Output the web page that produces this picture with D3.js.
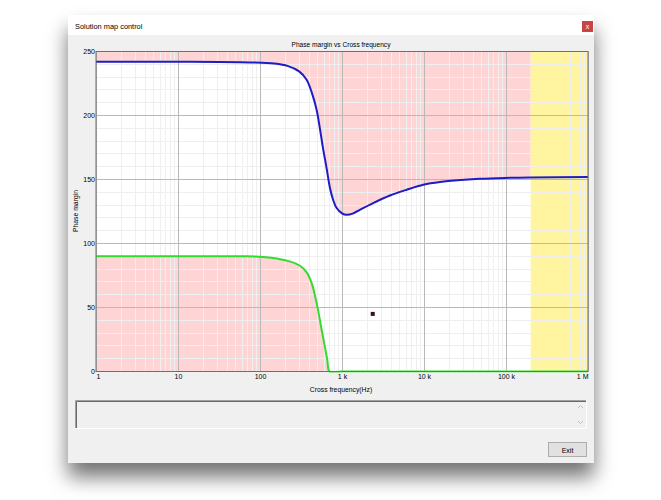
<!DOCTYPE html>
<html>
<head>
<meta charset="utf-8">
<script src="https://cdn.jsdelivr.net/npm/d3@7/dist/d3.min.js"></script>
<style>
  html, body { margin: 0; padding: 0; background: #ffffff; }
  svg { display: block; }
  text { font-family: "Liberation Sans", Arial, sans-serif; }
</style>
</head>
<body>
<svg id="chart" width="661" height="500"></svg>
<script>
// ---------------- data ----------------
const windowTitle = "Solution map control";
const chartTitle = "Phase margin vs Cross frequency";
const xAxisTitle = "Cross frequency(Hz)";
const yAxisTitle = "Phase margin";
const buttonLabel = "Exit";

const xTickValues = [1, 10, 100, 1000, 10000, 100000, 1000000];
const xTickLabels = ["1", "10", "100", "1 k", "10 k", "100 k", "1 M"];
const yTickValues = [0, 50, 100, 150, 200, 250];
const yTickLabels = ["0", "50", "100", "150", "200", "250"];

// blue curve (upper phase margin bound)
const blueFreq = [1, 10, 75, 150, 220, 300, 370, 430, 490, 540, 590, 650, 710, 780, 860, 1000, 1140, 1350, 1650, 2400, 3850, 6150, 9800, 15700, 48000, 112000, 200000, 1000000];
const blueValues = [242, 242, 241.5, 240.6, 238.6, 234.5, 228, 217.5, 204.5, 189, 173.5, 158.5, 144, 134, 127.7, 123.6, 122.4, 123.3, 126.3, 131.6, 137.5, 142, 145.9, 148, 150.5, 151.3, 151.6, 152];

// green curve (lower phase margin bound)
const greenFreq = [1, 10, 57, 100, 160, 230, 307, 371, 427, 491, 565, 662, 705, 1000, 1000000];
const greenValues = [90, 90, 90, 89.7, 88.3, 86, 82.6, 77.5, 69, 53.4, 32.6, 9.1, 0, 0, 0];

// yellow band start frequency
const yellowStart = [200000];

// single marker point
const markerFreq = [2370];
const markerValue = [45];

// ---------------- drawing ----------------
const svg = d3.select("#chart");
const defs = svg.append("defs");
const f = defs.append("filter").attr("id", "shadow")
  .attr("x", "-20%").attr("y", "-20%").attr("width", "140%").attr("height", "150%");
f.append("feDropShadow").attr("dx", 0).attr("dy", 14).attr("stdDeviation", 10)
  .attr("flood-color", "#000").attr("flood-opacity", 0.55);

// window
const win = { x: 68, y: 15, w: 526, h: 448 };
svg.append("rect").attr("x", win.x).attr("y", win.y).attr("width", win.w).attr("height", win.h)
  .attr("fill", "#f0f0f0").attr("filter", "url(#shadow)");
svg.append("rect").attr("x", win.x).attr("y", win.y).attr("width", win.w).attr("height", 20)
  .attr("fill", "#ffffff");
svg.append("text").attr("x", 75).attr("y", 29).attr("font-size", 7.4).attr("fill", "#000")
  .text(windowTitle);
// close button
svg.append("rect").attr("x", 582).attr("y", 21).attr("width", 11).attr("height", 11).attr("fill", "#c94545");
svg.append("text").attr("x", 587.5).attr("y", 29).attr("font-size", 7).attr("fill", "#fff")
  .attr("text-anchor", "middle").text("x");

// scales
const x = d3.scaleLog().domain([1, 1e6]).range([96, 588]);
const y = d3.scaleLinear().domain([0, 250]).range([371.5, 51.5]);
const [x0, x1] = x.range();
const [yb, yt] = y.range();

const plot = svg.append("g");
plot.append("rect").attr("x", x0).attr("y", yt).attr("width", x1 - x0).attr("height", yb - yt).attr("fill", "#ffffff");

defs.append("clipPath").attr("id", "pinkclip").append("rect")
  .attr("x", x0).attr("y", yt).attr("width", x(yellowStart[0]) - x0).attr("height", yb - yt);
defs.append("clipPath").attr("id", "plotclip").append("rect")
  .attr("x", x0 - 1).attr("y", yt).attr("width", x1 - x0 + 2).attr("height", yb - yt + 1);

const blueData = blueFreq.map((fq, i) => [fq, blueValues[i]]);
const greenData = greenFreq.map((fq, i) => [fq, greenValues[i]]);
const curve = d3.curveCatmullRom.alpha(0.5);

// pink fills
plot.append("path").datum(blueData)
  .attr("clip-path", "url(#pinkclip)")
  .attr("fill", "#ffd4d4")
  .attr("d", d3.area().curve(curve).x(d => x(d[0])).y0(y(250)).y1(d => y(d[1])));
plot.append("path").datum(greenData)
  .attr("clip-path", "url(#pinkclip)")
  .attr("fill", "#ffd4d4")
  .attr("d", d3.area().curve(curve).x(d => x(d[0])).y0(y(0)).y1(d => y(Math.max(0, d[1]))));
// yellow band
plot.append("rect").attr("x", x(yellowStart[0])).attr("y", yt)
  .attr("width", x1 - x(yellowStart[0])).attr("height", yb - yt).attr("fill", "#fff4a0");

// minor grid
const minorX = [];
for (let d = 0; d < 6; d++) for (let k = 2; k <= 9; k++) minorX.push(k * Math.pow(10, d));
const minorY = d3.range(10, 250, 10).filter(v => v % 50 !== 0);
plot.append("g").selectAll("line").data(minorX).join("line")
  .attr("x1", d => Math.round(x(d)) + 0.5).attr("x2", d => Math.round(x(d)) + 0.5)
  .attr("y1", yt).attr("y2", yb).attr("stroke", "#efefef").attr("stroke-width", 1);
plot.append("g").selectAll("line").data(minorY).join("line")
  .attr("y1", d => Math.round(y(d) - 0.5) + 0.5).attr("y2", d => Math.round(y(d) - 0.5) + 0.5)
  .attr("x1", x0).attr("x2", x1).attr("stroke", "#efefef").attr("stroke-width", 1);
// major grid
plot.append("g").selectAll("line").data(xTickValues).join("line")
  .attr("x1", d => Math.round(x(d)) + 0.5).attr("x2", d => Math.round(x(d)) + 0.5)
  .attr("y1", yt).attr("y2", yb).attr("stroke", "#b9b9b9").attr("stroke-width", 1);
plot.append("g").selectAll("line").data(yTickValues).join("line")
  .attr("y1", d => y(d)).attr("y2", d => y(d))
  .attr("x1", x0).attr("x2", x1).attr("stroke", "#b9b9b9").attr("stroke-width", 1);

// curves
const lines = plot.append("g").attr("clip-path", "url(#plotclip)");
lines.append("path").datum(blueData).attr("fill", "none").attr("stroke", "#1c1cc8").attr("stroke-width", 2)
  .attr("d", d3.line().curve(curve).x(d => x(d[0])).y(d => y(d[1])));
lines.append("path").datum(greenData).attr("fill", "none").attr("stroke", "#2fdc2f").attr("stroke-width", 2)
  .attr("d", d3.line().curve(curve).x(d => x(d[0])).y(d => y(d[1])));

// marker
plot.selectAll("rect.marker").data(markerFreq).join("rect").attr("class", "marker")
  .attr("x", (d) => x(d) - 2).attr("y", (d, i) => y(markerValue[i]) - 2)
  .attr("width", 4).attr("height", 4).attr("fill", "#3a1010");

// frame
plot.append("rect").attr("x", x0).attr("y", yt).attr("width", x1 - x0).attr("height", yb - yt)
  .attr("fill", "none").attr("stroke", "#6e6e6e").attr("stroke-width", 1);

// axes
const yAxis = d3.axisLeft(y).tickValues(yTickValues).tickSize(0).tickPadding(1)
  .tickFormat((d, i) => yTickLabels[i]);
const gy = svg.append("g").attr("transform", `translate(${x0},0)`).call(yAxis);
gy.select(".domain").remove();
gy.selectAll("text").attr("font-size", 7).attr("fill", "#000").attr("font-family", "Liberation Sans, Arial, sans-serif");

const xAxis = d3.axisBottom(x).tickValues(xTickValues).tickSize(0).tickPadding(3)
  .tickFormat((d, i) => xTickLabels[i]);
const gx = svg.append("g").attr("transform", `translate(0,${yb})`).call(xAxis);
gx.select(".domain").remove();
gx.selectAll("text").attr("font-size", 7).attr("fill", "#000").attr("font-family", "Liberation Sans, Arial, sans-serif")
  .attr("text-anchor", (d, i) => i === 0 ? "start" : (i === xTickValues.length - 1 ? "end" : "middle"));

// titles
svg.append("text").attr("x", 341).attr("y", 47).attr("text-anchor", "middle").attr("font-size", 6.6)
  .text(chartTitle);
svg.append("text").attr("x", 341).attr("y", 392).attr("text-anchor", "middle").attr("font-size", 6.8)
  .text(xAxisTitle);
svg.append("text").attr("transform", "translate(78,211) rotate(-90)").attr("text-anchor", "middle").attr("font-size", 6.8)
  .text(yAxisTitle);

// text box panel
const tb = { x: 75, y: 400, w: 512, h: 29 };
svg.append("rect").attr("x", tb.x).attr("y", tb.y).attr("width", tb.w).attr("height", tb.h).attr("fill", "#f0f0f0");
svg.append("path").attr("d", `M${tb.x + 0.5},${tb.y + tb.h} V${tb.y + 0.5} H${tb.x + tb.w}`)
  .attr("fill", "none").attr("stroke", "#a0a0a0").attr("stroke-width", 1);
svg.append("path").attr("d", `M${tb.x + 1.5},${tb.y + tb.h - 1} V${tb.y + 1.5} H${tb.x + tb.w - 1}`)
  .attr("fill", "none").attr("stroke", "#696969").attr("stroke-width", 1);
svg.append("path").attr("d", `M${tb.x},${tb.y + tb.h - 0.5} H${tb.x + tb.w - 0.5} V${tb.y}`)
  .attr("fill", "none").attr("stroke", "#ffffff").attr("stroke-width", 1);
// scroll arrows
svg.append("path").attr("d", "M578,408 L580.5,405.5 L583,408").attr("fill", "none").attr("stroke", "#c0c0c0");
svg.append("path").attr("d", "M578,421 L580.5,423.5 L583,421").attr("fill", "none").attr("stroke", "#c0c0c0");

// exit button
svg.append("rect").attr("x", 548.5).attr("y", 442.5).attr("width", 38).attr("height", 14)
  .attr("fill", "#e1e1e1").attr("stroke", "#adadad");
svg.append("text").attr("x", 567.5).attr("y", 452.5).attr("text-anchor", "middle").attr("font-size", 7)
  .text(buttonLabel);
</script>
</body>
</html>
